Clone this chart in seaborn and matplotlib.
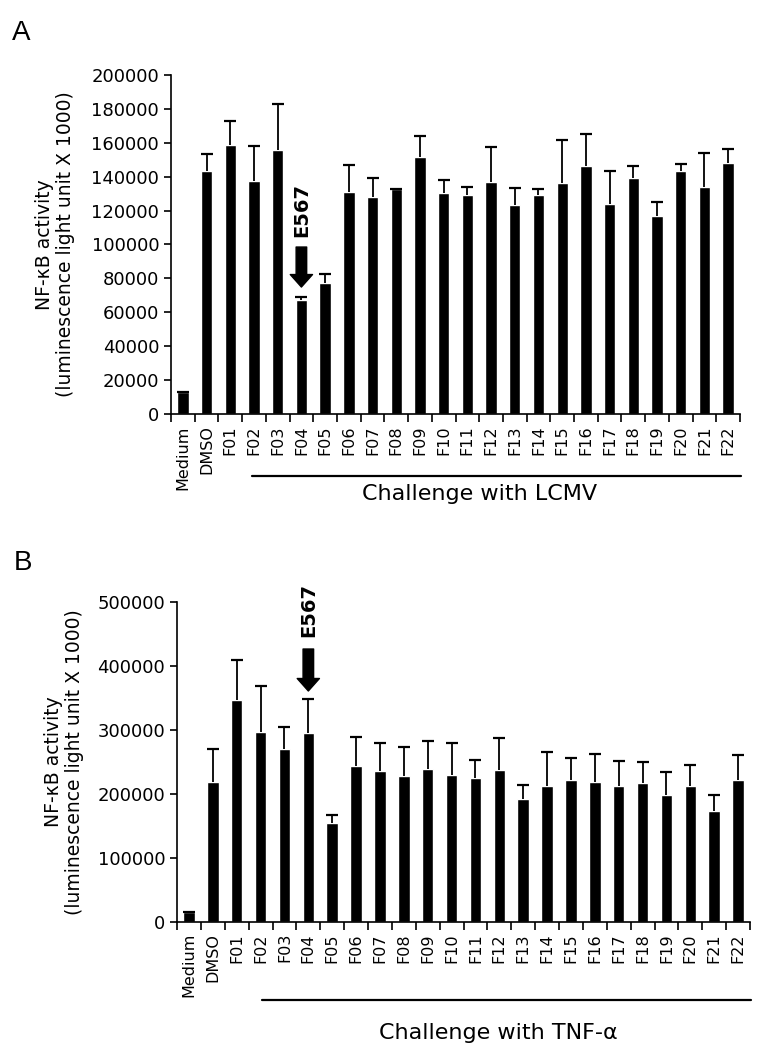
import numpy as np
import pandas as pd
import matplotlib.pyplot as plt
import seaborn as sns

labels = ["Medium", "DMSO"] + ["F%02d" % i for i in range(1, 23)]

# panel A - LCMV (mean and top of error bar)
lcmv_mean = [13000, 143400, 158700, 137700, 155600, 67300, 77500, 131200,
             128200, 132800, 151600, 130400, 129000, 137100, 123100, 129000,
             136300, 146300, 123700, 139400, 117000, 143600, 133700, 148100]
lcmv_top = [13000, 153200, 173000, 158300, 182700, 69200, 82800, 146900,
            139000, 132800, 164200, 138000, 134100, 157700, 133300, 132500,
            161900, 165200, 143600, 146300, 125100, 147300, 154000, 156400]

# panel B - TNF-alpha
tnf_mean = [15000, 218200, 346300, 296300, 269800, 295300, 154100, 244200,
            235400, 227600, 239000, 229700, 224400, 237500, 192700, 211900,
            222400, 218200, 213000, 217700, 198400, 212500, 173900, 222400]
tnf_top = [15000, 270800, 409900, 368700, 305200, 348400, 166700, 289600,
           280200, 273400, 282300, 279200, 253600, 288000, 214600, 266100,
           255700, 262500, 251500, 249400, 234400, 244800, 198400, 260900]

sns.set_style("ticks")
plt.rcParams['font.family'] = ['DejaVu Sans']
plt.rcParams['axes.linewidth'] = 1.2
for k in ['text.color', 'axes.labelcolor', 'xtick.color', 'ytick.color', 'axes.edgecolor']:
    plt.rcParams[k] = 'black'

fig = plt.figure(figsize=(7.71, 10.5), dpi=100)
axA = fig.add_axes([0.2218, 0.6057, 0.738, 0.3229])
axB = fig.add_axes([0.2296, 0.1219, 0.7432, 0.3048])


def panel(ax, mean, top, ymax, ystep, challenge, line_y, line_x0, text_x, text_y,
          arrow_tip, arrow_tail, text_base):
    df = pd.DataFrame({"sample": labels, "value": mean})
    sns.barplot(data=df, x="sample", y="value", order=labels, color="black",
                saturation=1, width=0.48, errorbar=None, ax=ax)
    mean = np.array(mean)
    top = np.array(top)
    eb = ax.errorbar(np.arange(len(labels)), mean, yerr=[np.zeros(len(mean)), top - mean],
                     fmt="none", ecolor="black", elinewidth=1.3, capsize=4, capthick=1.6)
    # upper error only: hide the cap that sits on the bar top
    eb[1][0].set_visible(False)
    sns.despine(ax=ax)
    ax.set_xlim(-0.5, len(labels) - 0.5)
    ax.set_ylim(0, ymax)
    yt = np.arange(0, ymax + 1, ystep)
    ax.set_yticks(yt)
    ax.set_yticklabels([str(int(v)) for v in yt], fontsize=13)
    ax.tick_params(axis="y", length=5, width=1.2)
    ax.set_xticks(np.arange(-0.5, len(labels), 1))
    ax.set_xticklabels([])
    ax.tick_params(axis="x", which="major", length=6, width=1.2)
    ax.set_xticks(np.arange(len(labels)), minor=True)
    ax.set_xticklabels(labels, minor=True, rotation=90, fontsize=11.5)
    ax.tick_params(axis="x", which="minor", length=0, pad=8)
    ax.set_xlabel("")
    ax.set_ylabel("NF-\u03baB activity\n(luminescence light unit X 1000)",
                  fontsize=13.5, linespacing=1.15)
    tr = ax.get_xaxis_transform()
    ax.plot([line_x0, len(labels) - 0.45], [line_y, line_y], color="black",
            lw=1.6, transform=tr, clip_on=False)
    ax.text(text_x, text_y, challenge, transform=ax.transAxes, ha="center",
            va="center", fontsize=16)
    # E567 marker over F04
    ax.annotate("", xy=(5, arrow_tip), xytext=(5, arrow_tail),
                arrowprops=dict(arrowstyle="simple,head_length=0.45,head_width=0.8,tail_width=0.38",
                                fc="black", ec="black", mutation_scale=20,
                                shrinkA=0, shrinkB=0), annotation_clip=False)
    ax.text(5, text_base, "E567", rotation=90, ha="center", va="bottom",
            fontsize=14, fontweight="bold", clip_on=False)


panel(axA, lcmv_mean, lcmv_top, 200000, 20000, "Challenge with LCMV",
      -0.183, 2.9, 0.543, -0.236, 74900, 98500, 104500)
axA.yaxis.set_label_coords(-0.168, 0.5)

panel(axB, tnf_mean, tnf_top, 500000, 100000, "Challenge with TNF-\u03b1",
      -0.244, 3.05, 0.56, -0.347, 360900, 426500, 445000)
axB.yaxis.set_label_coords(-0.162, 0.5)

fig.text(12 / 771, 1 - 40 / 1050, "A", fontsize=20, family="Liberation Sans")
fig.text(14 / 771, 1 - 570 / 1050, "B", fontsize=20, family="Liberation Sans")

fig.savefig("out.png", dpi=100)
